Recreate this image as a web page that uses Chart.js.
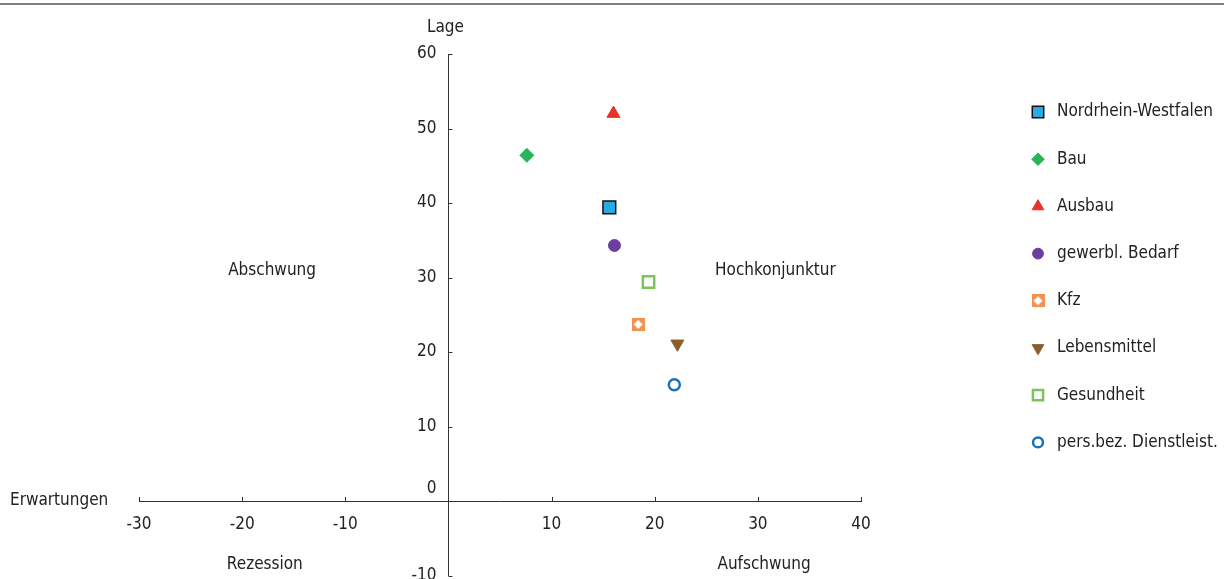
<!DOCTYPE html>
<html><head><meta charset="utf-8">
<script src="https://cdn.jsdelivr.net/npm/chart.js@4/dist/chart.umd.min.js"></script>
<style>html,body{margin:0;padding:0;background:#fff;overflow:hidden}
#wrap{position:relative;width:1224px;height:579px;overflow:hidden}</style>
</head><body><div id="wrap"><canvas id="c" width="1224" height="586"></canvas></div>
<script>
const seriesNames = ['Nordrhein-Westfalen','Bau','Ausbau','gewerbl. Bedarf','Kfz','Lebensmittel','Gesundheit','pers.bez. Dienstleist.'];
const expectations = [15.6, 7.6, 16.0, 16.1, 18.4, 22.2, 19.4, 21.9];   // x: Erwartungen
const situation    = [39.4, 46.4, 52.0, 34.3, 23.7, 21.1, 29.4, 15.6];  // y: Lage
const xTickValues = [-30,-20,-10,0,10,20,30,40];
const yTickValues = [-10,0,10,20,30,40,50,60];
const quadrantLabels = ['Abschwung','Hochkonjunktur','Rezession','Aufschwung'];
const xAxisTitle = 'Erwartungen';
const yAxisTitle = 'Lage';

const FONT = "'Liberation Sans Narrow','Arial Narrow','DejaVu Sans Condensed',sans-serif";
const FS = 17;
const TXT = '#222';

// Kfz marker: orange square with white diamond
const kfz = document.createElement('canvas');
kfz.width = 13; kfz.height = 13;
(function(){const g=kfz.getContext('2d');g.fillStyle='#f39150';g.fillRect(0,0,13,13);
g.fillStyle='#fff';g.beginPath();g.moveTo(6.5,2);g.lineTo(11,6.5);g.lineTo(6.5,11);g.lineTo(2,6.5);g.closePath();g.fill();})();

const styles = [
  {pointStyle:'rect', radius:9, bg:'#29abe2', border:'#111', bw:1.5},
  {pointStyle:'rectRot', radius:7, bg:'#2bb35c', border:'#2bb35c', bw:1},
  {pointStyle:'triangle', radius:7.5, bg:'#e8322b', border:'#e8322b', bw:1},
  {pointStyle:'circle', radius:6, bg:'#6b3fa0', border:'#6b3fa0', bw:1},
  {pointStyle:kfz, radius:7, bg:'#f39150', border:'#f39150', bw:0},
  {pointStyle:'triangle', rotation:180, radius:7.5, bg:'#8c5e2e', border:'#8c5e2e', bw:1},
  {pointStyle:'rect', radius:8, bg:'#ffffff', border:'#7cc35a', bw:2.5},
  {pointStyle:'circle', radius:5.5, bg:'#ffffff', border:'#1d70b7', bw:2.5}
];

const datasets = seriesNames.map((n,i)=>({
  label:n,
  data:[{x:expectations[i], y:situation[i]}],
  pointStyle:styles[i].pointStyle,
  rotation:styles[i].rotation||0,
  pointRadius:styles[i].radius,
  pointHoverRadius:styles[i].radius,
  backgroundColor:styles[i].bg,
  borderColor:styles[i].border,
  borderWidth:styles[i].bw
}));

const decor = {
  id:'decor',
  afterDraw(chart){
    const ctx = chart.ctx, xs = chart.scales.x, ys = chart.scales.y;
    const x0 = xs.getPixelForValue(0), y0 = ys.getPixelForValue(0);
    ctx.save();
    // top rule
    ctx.strokeStyle='#555'; ctx.lineWidth=1.5;
    ctx.beginPath(); ctx.moveTo(0,4); ctx.lineTo(1224,4); ctx.stroke();
    // inward ticks
    ctx.strokeStyle='#333'; ctx.lineWidth=1;
    xTickValues.forEach(v=>{ if(v===0) return; const p=Math.round(xs.getPixelForValue(v))+0.5;
      ctx.beginPath(); ctx.moveTo(p,y0); ctx.lineTo(p,y0-4); ctx.stroke(); });
    yTickValues.forEach(v=>{ if(v===0) return; const p=Math.round(ys.getPixelForValue(v))+0.5;
      ctx.beginPath(); ctx.moveTo(x0,p); ctx.lineTo(x0+4,p); ctx.stroke(); });
    ctx.fillStyle=TXT; ctx.font = FS+'px '+FONT; ctx.textBaseline='middle';
    // y tick labels (left of the y axis; "0" raised above the x axis)
    ctx.textAlign='right';
    ys.ticks.forEach(t=>{
      const p = ys.getPixelForValue(t.value);
      ctx.fillText(String(t.value), x0-12, t.value===0 ? p-12 : p);
    });
    // axis titles
    ctx.textAlign='center'; ctx.fillText(yAxisTitle, x0-3, ys.getPixelForValue(60)-26);
    ctx.textAlign='left'; ctx.fillText(xAxisTitle, 10, y0);
    // quadrant labels
    ctx.textAlign='center';
    ctx.fillText(quadrantLabels[0], xs.getPixelForValue(-17.1), ys.getPixelForValue(30.9));
    ctx.fillText(quadrantLabels[1], xs.getPixelForValue(31.7), ys.getPixelForValue(30.9));
    ctx.fillText(quadrantLabels[2], xs.getPixelForValue(-17.8), ys.getPixelForValue(-8.6));
    ctx.fillText(quadrantLabels[3], xs.getPixelForValue(30.6), ys.getPixelForValue(-8.6));
    // legend
    const lx = 1038, ly0 = 112, step = 47.2;
    chart.data.datasets.forEach((d,i)=>{
      const y = ly0 + i*step;
      ctx.fillStyle=d.backgroundColor; ctx.strokeStyle=d.borderColor; ctx.lineWidth=d.borderWidth;
      Chart.helpers.drawPoint(ctx,{pointStyle:d.pointStyle, rotation:d.rotation, radius:d.pointRadius*0.9, borderWidth:d.borderWidth}, lx, y);
      ctx.fillStyle=TXT; ctx.textAlign='left'; ctx.textBaseline='middle';
      ctx.fillText(d.label, 1057, y);
    });
    ctx.restore();
  }
};

new Chart(document.getElementById('c'), {
  type:'scatter',
  data:{datasets},
  options:{
    responsive:false, animation:false,
    layout:{padding:{left:139, right:363, top:54, bottom:4}},
    plugins:{legend:{display:false}, tooltip:{enabled:false}},
    scales:{
      x:{type:'linear', position:{y:0}, min:-30, max:40,
         afterFit(s){ s.height=0; s.paddingLeft=0; s.paddingRight=0; s.paddingTop=0; s.paddingBottom=0; },
         afterBuildTicks(s){ s.ticks = xTickValues.map(v=>({value:v})); },
         ticks:{padding:13, color:TXT, font:{family:FONT, size:FS}, callback:v=> v===0?'':String(v), maxRotation:0, autoSkip:false},
         grid:{display:true, drawOnChartArea:false, drawTicks:false, color:'#333'},
         border:{display:true, color:'#333', width:1}},
      y:{type:'linear', position:{x:0}, min:-10, max:60,
         afterFit(s){ s.width=0; s.paddingLeft=0; s.paddingRight=0; s.paddingTop=0; s.paddingBottom=0; },
         afterBuildTicks(s){ s.ticks = yTickValues.map(v=>({value:v})); },
         ticks:{display:false},
         grid:{display:true, drawOnChartArea:false, drawTicks:false, color:'#333'},
         border:{display:true, color:'#333', width:1}}
    }
  },
  plugins:[decor]
});
</script></body></html>
